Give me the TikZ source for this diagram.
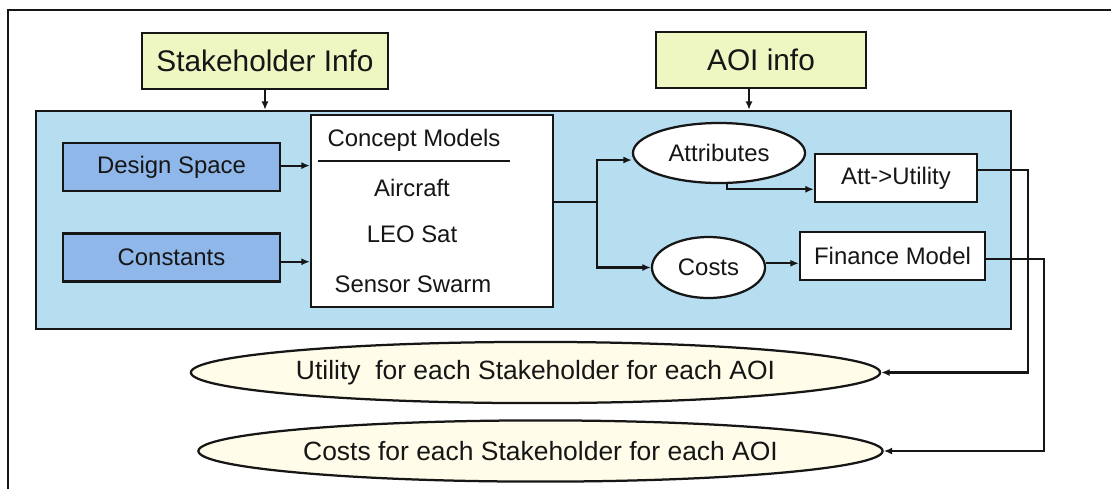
\documentclass[tikz,border=0pt]{standalone}
\usepackage{fontspec}
\setmainfont{Liberation Sans}
\usetikzlibrary{
    arrows.meta,
    positioning,
    shapes.geometric
}
\definecolor{ink}{RGB}{22,22,22}
\definecolor{infofill}{RGB}{238,246,194}
\definecolor{enginefill}{RGB}{182,221,240}
\definecolor{inputfill}{RGB}{143,183,234}
\definecolor{outfill}{RGB}{255,253,233}
\newcommand{\infosize}{\fontsize{21.2}{25}\selectfont}
\newcommand{\boxsize}{\fontsize{17}{20}\selectfont}
\newcommand{\outsize}{\fontsize{18.8}{22}\selectfont}
\tikzset{
    frame/.style={
        draw=ink,
        line width=1.7pt
    },
    engine/.style={
        rectangle,
        draw=ink,
        line width=1.6pt,
        fill=enginefill,
        minimum width=24.375cm,
        minimum height=5.45cm
    },
    infobox/.style={
        rectangle,
        draw=ink,
        line width=1.6pt,
        fill=infofill,
        minimum height=1.4cm,
        font=\infosize,
        text=ink
    },
    inputbox/.style={
        rectangle,
        draw=ink,
        line width=1.6pt,
        fill=inputfill,
        minimum width=5.425cm,
        minimum height=1.2cm,
        font=\boxsize,
        text=ink
    },
    modelbox/.style={
        rectangle,
        draw=ink,
        line width=1.6pt,
        fill=white,
        minimum height=1.2cm,
        font=\boxsize,
        text=ink
    },
    modeltext/.style={
        inner sep=0pt,
        font=\boxsize,
        text=ink
    },
    bubble/.style={
        ellipse,
        draw=ink,
        line width=1.6pt,
        fill=white,
        inner sep=0pt,
        font=\boxsize,
        text=ink
    },
    outcome/.style={
        ellipse,
        draw=ink,
        line width=1.6pt,
        fill=outfill,
        inner sep=0pt,
        minimum height=1.53cm,
        font=\outsize,
        text=ink
    },
    link/.style={
        draw=ink,
        line width=1.5pt
    },
    flowarrow/.style={
        -{Latex[length=6pt,width=5pt]},
        draw=ink,
        line width=1.5pt
    }
}
\begin{document}
\begin{tikzpicture}[x=0.025cm, y=-0.025cm]
\useasboundingbox[fill=white] (0,0) rectangle (1111,489);

% outer frame (cut off at right and bottom)
\draw[frame] (1111,10) -- (8,10) -- (8,489);

% shared model area
\node[engine] (engine) at (523.5,220) {};

% inputs from above
\node[infobox, minimum width=6.15cm] (stake) at (265,61) {Stakeholder Info};
\node[infobox, minimum width=5.25cm] (aoi) at (761,60) {AOI info};

% left inputs
\node[inputbox] (design) at (171.5,167) {Design Space};
\node[inputbox] (const) at (171.5,257.5) {Constants};

% concept models
\node[modelbox, minimum width=6.05cm, minimum height=4.8cm] (concept) at (432,211) {};
\node[modeltext, minimum width=4.775cm, minimum height=1.05cm] (ctitle) at (414,140) {Concept Models};
\node[modeltext] (aircraft) at (412,188) {Aircraft};
\node[modeltext] (leosat) at (412,234) {LEO Sat};
\node[modeltext] (swarm) at (413,284) {Sensor Swarm};
\draw[link] (ctitle.south west) -- (ctitle.south east);

% attributes and costs
\node[bubble, minimum width=4.3cm, minimum height=1.5cm] (attr) at (719,153) {Attributes};
\node[bubble, minimum width=2.825cm, minimum height=1.525cm] (costs) at (708.5,267.5) {Costs};
\node[modelbox, minimum width=4.05cm] (attu) at (896,178) {Att->Utility};
\node[modelbox, minimum width=4.625cm] (fin) at (892.5,256) {Finance Model};

% outcomes
\node[outcome, minimum width=17.225cm] (utilall) at (535.5,372.5) {Utility\ \ for each Stakeholder for each AOI};
\node[outcome, minimum width=17.1cm] (costall) at (540.5,451) {Costs for each Stakeholder for each AOI};

% connectors
\coordinate (split) at (597,202);
\coordinate (utilx) at (1028,0);
\coordinate (costx) at (1044,0);

\draw[flowarrow] (stake.south) -- (stake.south |- engine.north);
\draw[flowarrow] ([xshift=-3mm]aoi.south) -- ([xshift=-3mm]aoi.south |- engine.north);
\draw[flowarrow] ([yshift=1pt]design.east) -- ([yshift=1pt]design.east -| concept.west);
\draw[flowarrow] ([yshift=-3pt]const.east) -- ([yshift=-3pt]const.east -| concept.west);
\draw[link] (concept.east |- split) -- (split);
\draw[flowarrow] (split) |- ([yshift=-5pt]attr.west);
\draw[flowarrow] (split) |- (costs.west);
\draw[flowarrow] (attr.-75) |- ([yshift=-8pt]attu.west);
\draw[flowarrow] ([yshift=3pt]costs.east) -- ([yshift=3pt]costs.east -| fin.west);
\draw[flowarrow] ([yshift=6pt]attu.east) -| (utilx |- utilall.east) -- (utilall.east);
\draw[flowarrow] ([yshift=-2pt]fin.east) -| (costx |- costall.east) -- (costall.east);
\end{tikzpicture}
\end{document}
